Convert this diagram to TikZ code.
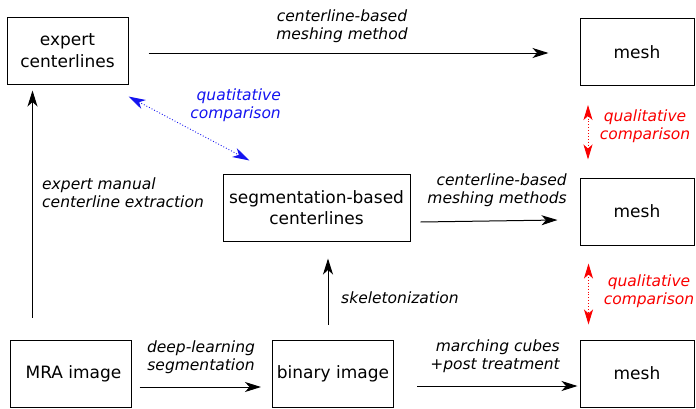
\documentclass[tikz,border=0pt]{standalone}
\usepackage{fontspec}
\setmainfont{DejaVu Sans}
\usepackage{xcolor}
\usepackage{tikz}
\usetikzlibrary{arrows.meta,positioning}
\definecolor{cmpblue}{RGB}{20,20,240}
\definecolor{cmpred}{RGB}{250,0,0}

\begin{document}
\begin{tikzpicture}[
  x=1pt, y=-1pt,
  box/.style={draw, line width=1pt, minimum width=121pt, minimum height=67pt, align=center, inner sep=2pt, font=\fontsize{17}{21.5}\selectfont},
  meshbox/.style={box, minimum width=114pt},
  lbl/.style={font=\fontsize{15.5}{18}\selectfont\itshape, inner sep=0pt},
  arrow/.style={-{Stealth[length=16pt, width=10pt, inset=4.5pt]}, line width=1pt},
  bluecmp/.style={{Stealth[length=17pt, width=10pt, inset=5pt]}-{Stealth[length=17pt, width=10pt, inset=5pt]}, cmpblue, dotted, line width=0.9pt},
  redcmp/.style={{Stealth[length=15pt, width=9pt, inset=4pt]}-{Stealth[length=15pt, width=9pt, inset=4pt]}, cmpred, dotted, line width=0.9pt}
]
  \useasboundingbox (0,0) rectangle (696,408);
  % boxes
  \node[box] (expert) at (67.5,50.5) {expert\\centerlines};
  \node[meshbox] (meshtop) at (637,52) {mesh};
  \node[box, minimum width=187pt] (seg) at (316.5,207.5) {segmentation-based\\centerlines};
  \node[meshbox] (meshmid) at (637,211.5) {mesh};
  \node[box] (mra) at (70.5,373.5) {\hspace{6pt}MRA image};
  \node[box] (binary) at (333,373.5) {binary image};
  \node[meshbox] (meshbot) at (637,373.5) {mesh};

  % connectors
  \draw[arrow, shorten <=20pt, shorten >=31pt] ([yshift=-2.5pt]expert.east) -- ([yshift=-2.5pt]expert.east -| meshtop.west);
  \draw[arrow, shorten <=22pt, shorten >=6pt] ([xshift=23pt]mra.north west) -- ([xshift=23pt]mra.north west |- expert.south);
  \draw[bluecmp] ([yshift=-12pt]expert.south east) -- ([xshift=27pt,yshift=13pt]seg.north west);
  \draw[arrow] ([xshift=10pt,yshift=-14.5pt]seg.east) -- ([xshift=-22pt,yshift=-8.5pt]meshmid.west);
  \draw[redcmp] ([xshift=8.5pt,yshift=-19pt]meshtop.south west) -- ([xshift=8.5pt,yshift=18pt]meshmid.north west);
  \draw[redcmp] ([xshift=9pt,yshift=-18pt]meshmid.south west) -- ([xshift=9pt,yshift=15pt]meshbot.north west);
  \draw[arrow, shorten <=15pt, shorten >=17pt] ([xshift=-5pt]binary.north) -- ([xshift=-5pt]binary.north |- seg.south);
  \draw[arrow, shorten >=19pt] ([xshift=8pt,yshift=-13.5pt]mra.east) -- ([xshift=8pt,yshift=-13.5pt]mra.east -| binary.west);
  \draw[arrow, shorten >=25pt] ([xshift=23pt,yshift=-12.5pt]binary.east) -- ([xshift=23pt,yshift=-12.5pt]binary.east -| meshbot.west);

  % labels
  \node[lbl, align=center] (toplbl) at (342,26) {centerline-based\\ meshing method};
  \node[lbl, align=left, anchor=west] (manuallbl) at (42,193) {expert manual\\centerline extraction};
  \node[lbl, align=right, anchor=east, text=cmpblue] (quatlbl) at (281,105) {quatitative\\comparison};
  \node[lbl, align=right, anchor=east] (midlbl) at (567,190) {centerline-based\\meshing methods};
  \node[lbl, align=center, text=cmpred] (qual1lbl) at (645,126) {qualitative\\comparison};
  \node[lbl, align=center, text=cmpred] (qual2lbl) at (649,291) {qualitative\\comparison};
  \node[lbl, anchor=west] (skellbl) at (341,298) {skeletonization};
  \node[lbl, align=center] (dllbl) at (201,357) {deep-learning\\segmentation};
  \node[lbl, align=right, anchor=east] (mclbl) at (560,356) {marching cubes\\+post treatment};
\end{tikzpicture}
\end{document}
